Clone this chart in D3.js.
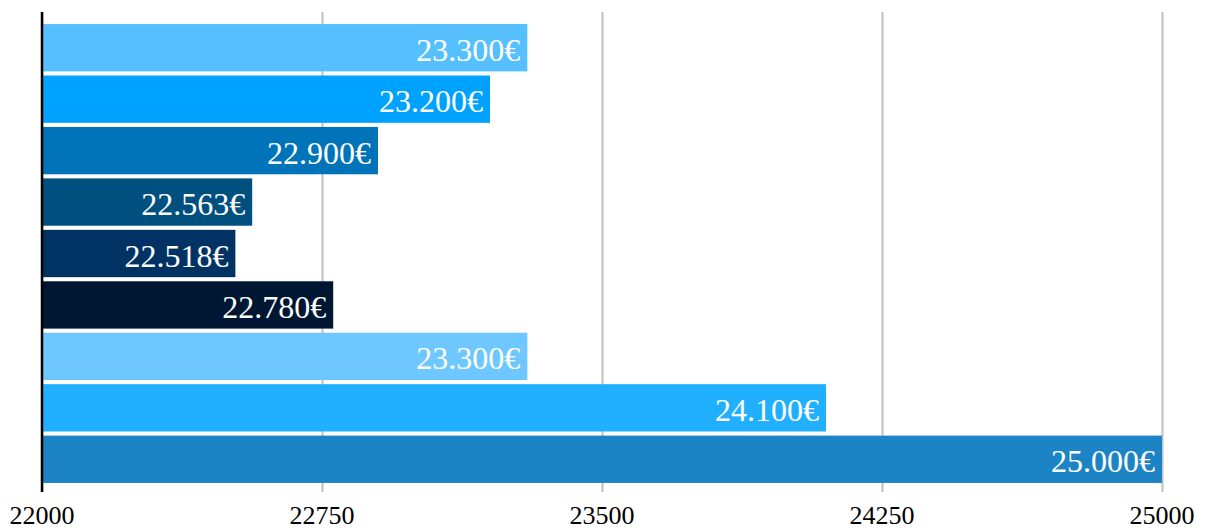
<!DOCTYPE html>
<html>
<head>
<meta charset="utf-8">
<script src="https://cdn.jsdelivr.net/npm/d3@7"></script>
<style>
  body { margin: 0; background: #fff; }
  svg text { font-family: "Liberation Serif", "Times New Roman", serif; }
</style>
</head>
<body>
<div class="chart"></div>
<script>
var svgWidth = 1206;
var svgHeight = 530;

// chart values, top to bottom
var categories = ["b1", "b2", "b3", "b4", "b5", "b6", "b7", "b8", "b9"];
var values = [23300, 23200, 22900, 22563, 22518, 22780, 23300, 24100, 25000];
var valueLabels = ["23.300€", "23.200€", "22.900€", "22.563€", "22.518€", "22.780€", "23.300€", "24.100€", "25.000€"];
var barColors = ["#56c0ff", "#00a2ff", "#0073b9", "#00507f", "#003264", "#001733", "#6ec8ff", "#20b0ff", "#1c84c4"];
var tickValues = [22000, 22750, 23500, 24250, 25000];

var svg = d3.select(".chart")
  .append("svg")
  .attr("width", svgWidth)
  .attr("height", svgHeight);

var x = d3.scaleLinear()
  .domain([22000, 25000])
  .range([42, 1162]);

var y = d3.scaleBand()
  .domain(categories)
  .range([22, 485])
  .paddingInner(0.08)
  .paddingOuter(0.04);

// grid lines
var grid = svg.append("g")
  .attr("transform", "translate(0, 492)")
  .call(d3.axisBottom(x).tickValues(tickValues).tickSize(-480).tickFormat(""));
grid.select(".domain").remove();
grid.selectAll(".tick line")
  .attr("stroke", "#c0c0c0")
  .attr("stroke-width", 2);

// bars
var bars = svg.append("g")
  .selectAll("g")
  .data(values)
  .enter()
  .append("g");

bars.append("rect")
  .attr("x", x(22000))
  .attr("y", (d, i) => y(categories[i]))
  .attr("width", d => x(d) - x(22000))
  .attr("height", y.bandwidth())
  .attr("fill", (d, i) => barColors[i]);

bars.append("text")
  .attr("x", d => x(d) - 7)
  .attr("y", (d, i) => y(categories[i]) + y.bandwidth() / 2 + 13)
  .attr("text-anchor", "end")
  .attr("fill", "#fff")
  .attr("font-size", "32px")
  .text((d, i) => valueLabels[i]);

// y axis line
svg.append("line")
  .attr("x1", 42).attr("x2", 42)
  .attr("y1", 12).attr("y2", 492)
  .attr("stroke", "#000")
  .attr("stroke-width", 2.5);

// x tick labels
svg.append("g")
  .selectAll("text")
  .data(tickValues)
  .enter()
  .append("text")
  .attr("x", d => x(d))
  .attr("y", 524)
  .attr("text-anchor", "middle")
  .attr("font-size", "26px")
  .attr("fill", "#000")
  .text(d => d);
</script>
</body>
</html>
